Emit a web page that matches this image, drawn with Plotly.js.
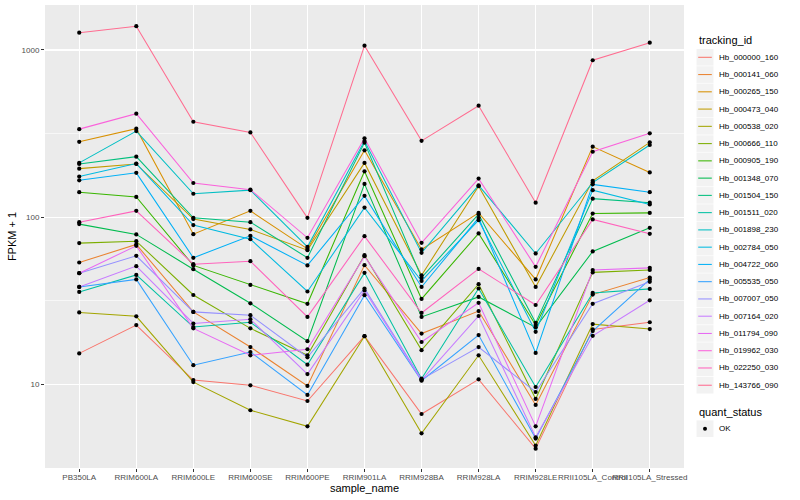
<!DOCTYPE html>
<html><head><meta charset="utf-8">
<script src="https://cdn.plot.ly/plotly-3.0.1.min.js"></script>
<style>html,body{margin:0;padding:0;background:#fff}#chart{width:800px;height:500px}</style>
</head><body><div id="chart"></div>
<script>
const samples = ["PB350LA","RRIM600LA","RRIM600LE","RRIM600SE","RRIM600PE","RRIM901LA","RRIM928BA","RRIM928LA","RRIM928LE","RRII105LA_Control","RRII105LA_Stressed"];
const trackingIds = ["Hb_000000_160","Hb_000141_060","Hb_000265_150","Hb_000473_040","Hb_000538_020","Hb_000666_110","Hb_000905_190","Hb_001348_070","Hb_001504_150","Hb_001511_020","Hb_001898_230","Hb_002784_050","Hb_004722_060","Hb_005535_050","Hb_007007_050","Hb_007164_020","Hb_011794_090","Hb_019962_030","Hb_022250_030","Hb_143766_090"];
const colors = ["#F8766D","#EA8331","#D89000","#C09B00","#A3A500","#7CAE00","#39B600","#00BB4E","#00BF7D","#00C1A3","#00BFC4","#00BAE0","#00B0F6","#35A2FF","#9590FF","#C77CFF","#E76BF3","#FA62DB","#FF62BC","#FF6C90"];

const s000000_160 = [15.3, 22.6, 10.6, 9.86, 7.94, 19.4, 6.64, 10.7, 4.12, 21.3, 23.5];
const s000141_060 = [53.5, 68.6, 27.1, 16.7, 9.77, 51.6, 20.1, 27.4, 7.52, 34.4, 43.5];
const s000265_150 = [282, 338, 79.1, 109, 64.6, 251, 64.1, 106, 42.4, 264, 185];
const s000473_040 = [195, 208, 97.3, 84.4, 63.4, 211, 44.9, 153, 38.2, 165, 280];
const s000538_020 = [26.9, 25.5, 10.3, 6.99, 5.60, 19.4, 5.09, 14.9, 4.30, 22.9, 21.4];
const s000666_110 = [69.9, 71.8, 34.2, 21.6, 14.9, 59.2, 16.0, 39.7, 8.17, 46.7, 48.3];
const s000905_190 = [141, 132, 51.4, 39.3, 30.3, 188, 32.4, 79.9, 22.6, 105, 106];
const s001348_070 = [90.8, 78.8, 48.8, 30.5, 18.1, 158, 25.3, 33.3, 21.9, 62.3, 86.3];
const s001504_150 = [208, 230, 99.0, 93.3, 57.1, 279, 43.5, 104, 23.3, 129, 122];
const s001511_020 = [35.7, 45.1, 22.0, 23.5, 13.1, 46.4, 10.8, 37.4, 9.63, 35.2, 37.2];
const s001898_230 = [211, 327, 138, 145, 66.4, 285, 61.1, 155, 60.6, 161, 270];
const s002784_050 = [175, 209, 89.6, 73.8, 35.9, 114, 41.5, 95.9, 20.6, 145, 119];
const s004722_060 = [166, 184, 57.1, 77.3, 51.4, 134, 38.2, 99.0, 15.4, 157, 141];
const s005535_050 = [38.2, 42.4, 13.0, 15.6, 8.63, 34.1, 10.5, 19.7, 4.73, 20.8, 42.4];
const s007007_050 = [46.2, 58.7, 27.1, 25.9, 14.5, 37.4, 10.7, 16.7, 8.99, 30.3, 41.0];
const s007164_020 = [38.2, 50.9, 23.1, 24.5, 11.5, 36.4, 10.6, 25.6, 4.82, 19.5, 31.8];
const s011794_090 = [46.2, 67.3, 21.6, 14.9, 16.2, 58.4, 17.9, 30.7, 5.60, 48.2, 49.7];
const s019962_030 = [336, 416, 160, 146, 75.2, 296, 70.2, 170, 50.4, 246, 317];
const s022250_030 = [93.3, 109, 52.3, 54.5, 25.3, 76.9, 26.7, 49.0, 29.8, 96.9, 79.4];
const s143766_090 = [1269, 1387, 372, 321, 99, 1061, 286, 464, 122, 868, 1106];

const seriesValues = [s000000_160, s000141_060, s000265_150, s000473_040, s000538_020, s000666_110, s000905_190, s001348_070, s001504_150, s001511_020, s001898_230, s002784_050, s004722_060, s005535_050, s007007_050, s007164_020, s011794_090, s019962_030, s022250_030, s143766_090];
const yTickVals = [10, 100, 1000];
const yTickText = ["10", "100", "1000"];
const yMinorVals = [3.1623, 31.623, 316.23];

const FONT = "Liberation Sans, Arial, Helvetica, sans-serif";
const traces = [];
seriesValues.forEach((vals, i) => {
  traces.push({type:'scatter', mode:'lines', x:samples, y:vals, name:trackingIds[i],
    line:{color:colors[i], width:1.05}, hoverinfo:'skip', showlegend:false});
});
seriesValues.forEach((vals, i) => {
  traces.push({type:'scatter', mode:'markers', x:samples, y:vals, name:'OK',
    marker:{color:'#000', size:4.2}, hoverinfo:'skip', showlegend:false});
});

// plot area in pixels
const L = 45, R = 684, T = 5, B = 468;
const px = v => (v - L) / (R - L);
const py = v => (B - v) / (B - T);

const shapes = [], annotations = [];
annotations.push({xref:'paper', yref:'paper', x:px(696.5), y:py(40.5), xanchor:'left', yanchor:'middle',
  text:'tracking_id', showarrow:false, font:{family:FONT, size:11, color:'#000'}});
trackingIds.forEach((id, i) => {
  const yc = 57.3 + i * 17.26;
  shapes.push({type:'rect', xref:'paper', yref:'paper', x0:px(696.5), x1:px(713.5), y0:py(yc-8.3), y1:py(yc+8.3),
    fillcolor:'#F2F2F2', line:{width:0}, layer:'below'});
  shapes.push({type:'line', xref:'paper', yref:'paper', x0:px(698.2), x1:px(711.8), y0:py(yc), y1:py(yc),
    line:{color:colors[i], width:1.05}});
  annotations.push({xref:'paper', yref:'paper', x:px(716.5), y:py(yc), xanchor:'left', yanchor:'middle',
    text:id, showarrow:false, font:{family:FONT, size:8, color:'#000'}});
});
annotations.push({xref:'paper', yref:'paper', x:px(696.5), y:py(412), xanchor:'left', yanchor:'middle',
  text:'quant_status', showarrow:false, font:{family:FONT, size:11, color:'#000'}});
shapes.push({type:'rect', xref:'paper', yref:'paper', x0:px(696.5), x1:px(713.5), y0:py(428.7-8.3), y1:py(428.7+8.3),
  fillcolor:'#F2F2F2', line:{width:0}, layer:'below'});
shapes.push({type:'circle', xref:'paper', yref:'paper', x0:px(703), x1:px(707), y0:py(430.7), y1:py(426.7),
  fillcolor:'#000', line:{width:0}});
annotations.push({xref:'paper', yref:'paper', x:px(716.5), y:py(428.7), xanchor:'left', yanchor:'middle',
  text:'OK', showarrow:false, font:{family:FONT, size:8, color:'#000'}});

const layout = {
  width:800, height:500,
  margin:{l:L, r:800-R, t:T, b:500-B, pad:0},
  paper_bgcolor:'#FFFFFF', plot_bgcolor:'#EBEBEB',
  font:{family:FONT, size:8, color:'#4D4D4D'},
  showlegend:false,
  xaxis:{type:'category', range:[-0.6, 10.6], showgrid:true, gridcolor:'#FFFFFF', gridwidth:1.2,
    zeroline:false, showline:false, ticks:'outside', ticklen:3, tickwidth:1, tickcolor:'#333333',
    ticklabelstandoff:-2,
    tickfont:{family:FONT, size:8, color:'#4D4D4D'}, tickangle:0,
    title:{text:'sample_name', font:{family:FONT, size:11, color:'#000'}, standoff:0}},
  yaxis:{type:'log', range:[0.499, 3.269], tickvals:yTickVals, ticktext:yTickText,
    showgrid:true, gridcolor:'#FFFFFF', gridwidth:1.2, zeroline:false, showline:false,
    ticks:'outside', ticklen:3, tickwidth:1, tickcolor:'#333333',
    tickfont:{family:FONT, size:8, color:'#4D4D4D'},
    minor:{tickvals:yMinorVals, showgrid:true, gridcolor:'#FFFFFF', gridwidth:0.6, ticks:''},
    title:{text:'FPKM + 1', font:{family:FONT, size:11, color:'#000'}, standoff:2}},
  shapes:shapes, annotations:annotations
};
Plotly.newPlot('chart', traces, layout, {staticPlot:true, displayModeBar:false});
</script></body></html>
